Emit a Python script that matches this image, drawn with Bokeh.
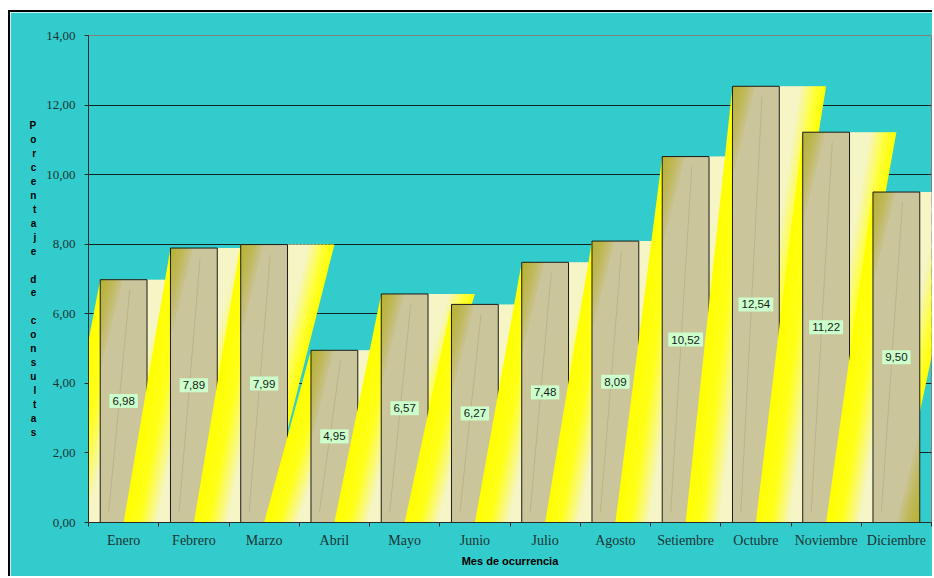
import numpy as np
from bokeh.plotting import figure
from bokeh.models import ColumnDataSource, FixedTicker, Label, Range1d
from bokeh.embed import file_html
from bokeh.resources import INLINE
from bokeh.core.properties import value

# --- data -----------------------------------------------------------------
meses = ["Enero", "Febrero", "Marzo", "Abril", "Mayo", "Junio", "Julio",
         "Agosto", "Setiembre", "Octubre", "Noviembre", "Diciembre"]
porcentajes = [6.98, 7.89, 7.99, 4.95, 6.57, 6.27, 7.48, 8.09, 10.52, 12.54, 11.22, 9.50]
y_ticks = [0, 2, 4, 6, 8, 10, 12, 14]
y_tick_labels = ["0,00", "2,00", "4,00", "6,00", "8,00", "10,00", "12,00", "14,00"]
titulo_y = "Porcentaje de consultas"
titulo_x = "Mes de ocurrencia"

# --- style ----------------------------------------------------------------
TEAL = "#33cccc"
KHAKI = "#cbc59b"
OLIVE = "#b3ab00"
BAR_HALF = 0.333
N_STRIPS = 26

# gradient stops for the yellow bands (position across band -> colour)
stops_u = [0.0, 0.22, 0.48, 0.72, 0.88, 1.0]
stops_rgb = [(255, 255, 0), (255, 255, 25), (245, 245, 198), (245, 245, 198),
             (255, 255, 60), (255, 255, 0)]


def band_colour(u):
    r = np.interp(u, stops_u, [c[0] for c in stops_rgb])
    g = np.interp(u, stops_u, [c[1] for c in stops_rgb])
    b = np.interp(u, stops_u, [c[2] for c in stops_rgb])
    return "#%02x%02x%02x" % (int(round(r)), int(round(g)), int(round(b)))


p = figure(width=924, height=566,
           x_range=Range1d(0, 12), y_range=Range1d(0, 14),
           output_backend="svg", toolbar_location=None,
           margin=(10, 0, 0, 8),
           min_border_left=78, min_border_top=23,
           min_border_right=3, min_border_bottom=56)
p.styles = {"border-top": "2px solid #000", "border-left": "2px solid #000"}
p.background_fill_color = TEAL
p.border_fill_color = TEAL
p.outline_line_color = "#7f7f7f"

# horizontal grid
p.xgrid.visible = False
p.ygrid.ticker = FixedTicker(ticks=y_ticks)
p.ygrid.grid_line_color = "#142020"
p.ygrid.grid_line_width = 1

# --- bands, bars and corner shading, drawn month by month ------------------
edges = np.linspace(0, 1, N_STRIPS + 1)
for k, h in enumerate(porcentajes):
    c = k + 0.5
    xb0, xb1 = c - 1.0, c           # bottom edge of the band
    xt0, xt1 = c - BAR_HALF, c + 1.0  # top edge of the band
    xs, ys, cols = [], [], []
    for i in range(N_STRIPS):
        u0 = edges[i]
        u1 = min(edges[i + 1] + 0.012, 1.0)
        xs.append([xb0 + u0 * (xb1 - xb0), xb0 + u1 * (xb1 - xb0),
                   xt0 + u1 * (xt1 - xt0), xt0 + u0 * (xt1 - xt0)])
        ys.append([0, 0, h, h])
        cols.append(band_colour((edges[i] + edges[i + 1]) / 2))
    p.patches(xs="xs", ys="ys", fill_color="col", line_color=None,
              source=ColumnDataSource(dict(xs=xs, ys=ys, col=cols)))

    left, right = c - BAR_HALF, c + BAR_HALF
    p.quad(left=left, right=right, bottom=0, top=h,
           fill_color=KHAKI, line_color=None)

    # olive shading from the upper-left and lower-right corners
    txs, tys = [], []
    for f in np.linspace(1 / 7, 1, 7):
        txs.append([left, left + 0.32 * f, left])
        tys.append([h, h, h - 2.6 * f])
        txs.append([right, right - 0.32 * f, right])
        tys.append([0, 0, 2.6 * f])
    p.patches(xs=txs, ys=tys, fill_color=OLIVE, fill_alpha=0.14, line_color=None)

    # faint diagonal grain of the texture
    p.line(x=[left + 0.12, left + 0.42], y=[0.3, h - 0.3],
           line_color="#9c9676", line_alpha=0.35, line_width=1)

    p.quad(left=left, right=right, bottom=0, top=h,
           fill_color=None, line_color="#1a1a1a", line_width=1)

# value labels at mid-height of each bar
src_lbl = ColumnDataSource(dict(
    x=[k + 0.5 for k in range(len(porcentajes))],
    y=[v / 2 for v in porcentajes],
    txt=[("%.2f" % v).replace(".", ",") for v in porcentajes],
))
p.text(x="x", y="y", text="txt", source=src_lbl,
       text_align="center", text_baseline="middle",
       text_font=value("Liberation Sans"), text_font_size="11.5px",
       text_color="#141c14",
       background_fill_color="#ccffcc", padding=3)

# --- axes ------------------------------------------------------------------
yax = p.yaxis[0]
yax.ticker = FixedTicker(ticks=y_ticks)
yax.major_label_overrides = {t: l for t, l in zip(y_ticks, y_tick_labels)}
yax.major_label_text_font = "Liberation Serif"
yax.major_label_text_font_size = "13px"
yax.major_label_text_color = "#1c3434"
yax.major_tick_out = 4
yax.major_tick_in = 0
yax.minor_tick_line_color = None
yax.major_label_standoff = 9
yax.axis_line_color = "#2a2a2a"
yax.major_tick_line_color = "#2a2a2a"

centres = [k + 0.5 for k in range(len(meses))]
xax = p.xaxis[0]
xax.ticker = FixedTicker(ticks=centres, minor_ticks=list(range(len(meses) + 1)))
xax.major_label_overrides = {cx: m for cx, m in zip(centres, meses)}
xax.major_tick_line_color = None
xax.major_tick_out = 0
xax.major_tick_in = 0
xax.minor_tick_line_color = "#2a2a2a"
xax.minor_tick_out = 4
xax.minor_tick_in = 0
xax.major_label_standoff = 6
xax.major_label_text_font = "Liberation Serif"
xax.major_label_text_font_size = "14px"
xax.major_label_text_color = "#1c3434"
xax.axis_line_color = "#2a2a2a"
xax.axis_label = titulo_x
xax.axis_label_text_font = "Liberation Sans"
xax.axis_label_text_font_style = "bold"
xax.axis_label_text_font_size = "11px"
xax.axis_label_text_color = "#000000"
xax.axis_label_standoff = 4

# vertical title, one letter per line
stacked = "\n".join(titulo_y)
if "axis_label_orientation" in yax.properties():
    yax.axis_label = stacked
    yax.axis_label_orientation = "horizontal"
    yax.axis_label_text_font = "Liberation Sans"
    yax.axis_label_text_font_style = "bold"
    yax.axis_label_text_font_size = "10px"
    yax.axis_label_text_line_height = 1.27
    yax.axis_label_text_color = "#000000"
    yax.axis_label_standoff = 7
else:
    p.add_layout(Label(x=-55, y=243, x_units="screen", y_units="screen",
                       text=stacked, text_align="center", text_baseline="middle",
                       text_font="Liberation Sans", text_font_style="bold",
                       text_font_size="10px", text_line_height=1.27,
                       text_color="#000000", level="overlay"))

open("out.html", "w").write(file_html(p, INLINE))
